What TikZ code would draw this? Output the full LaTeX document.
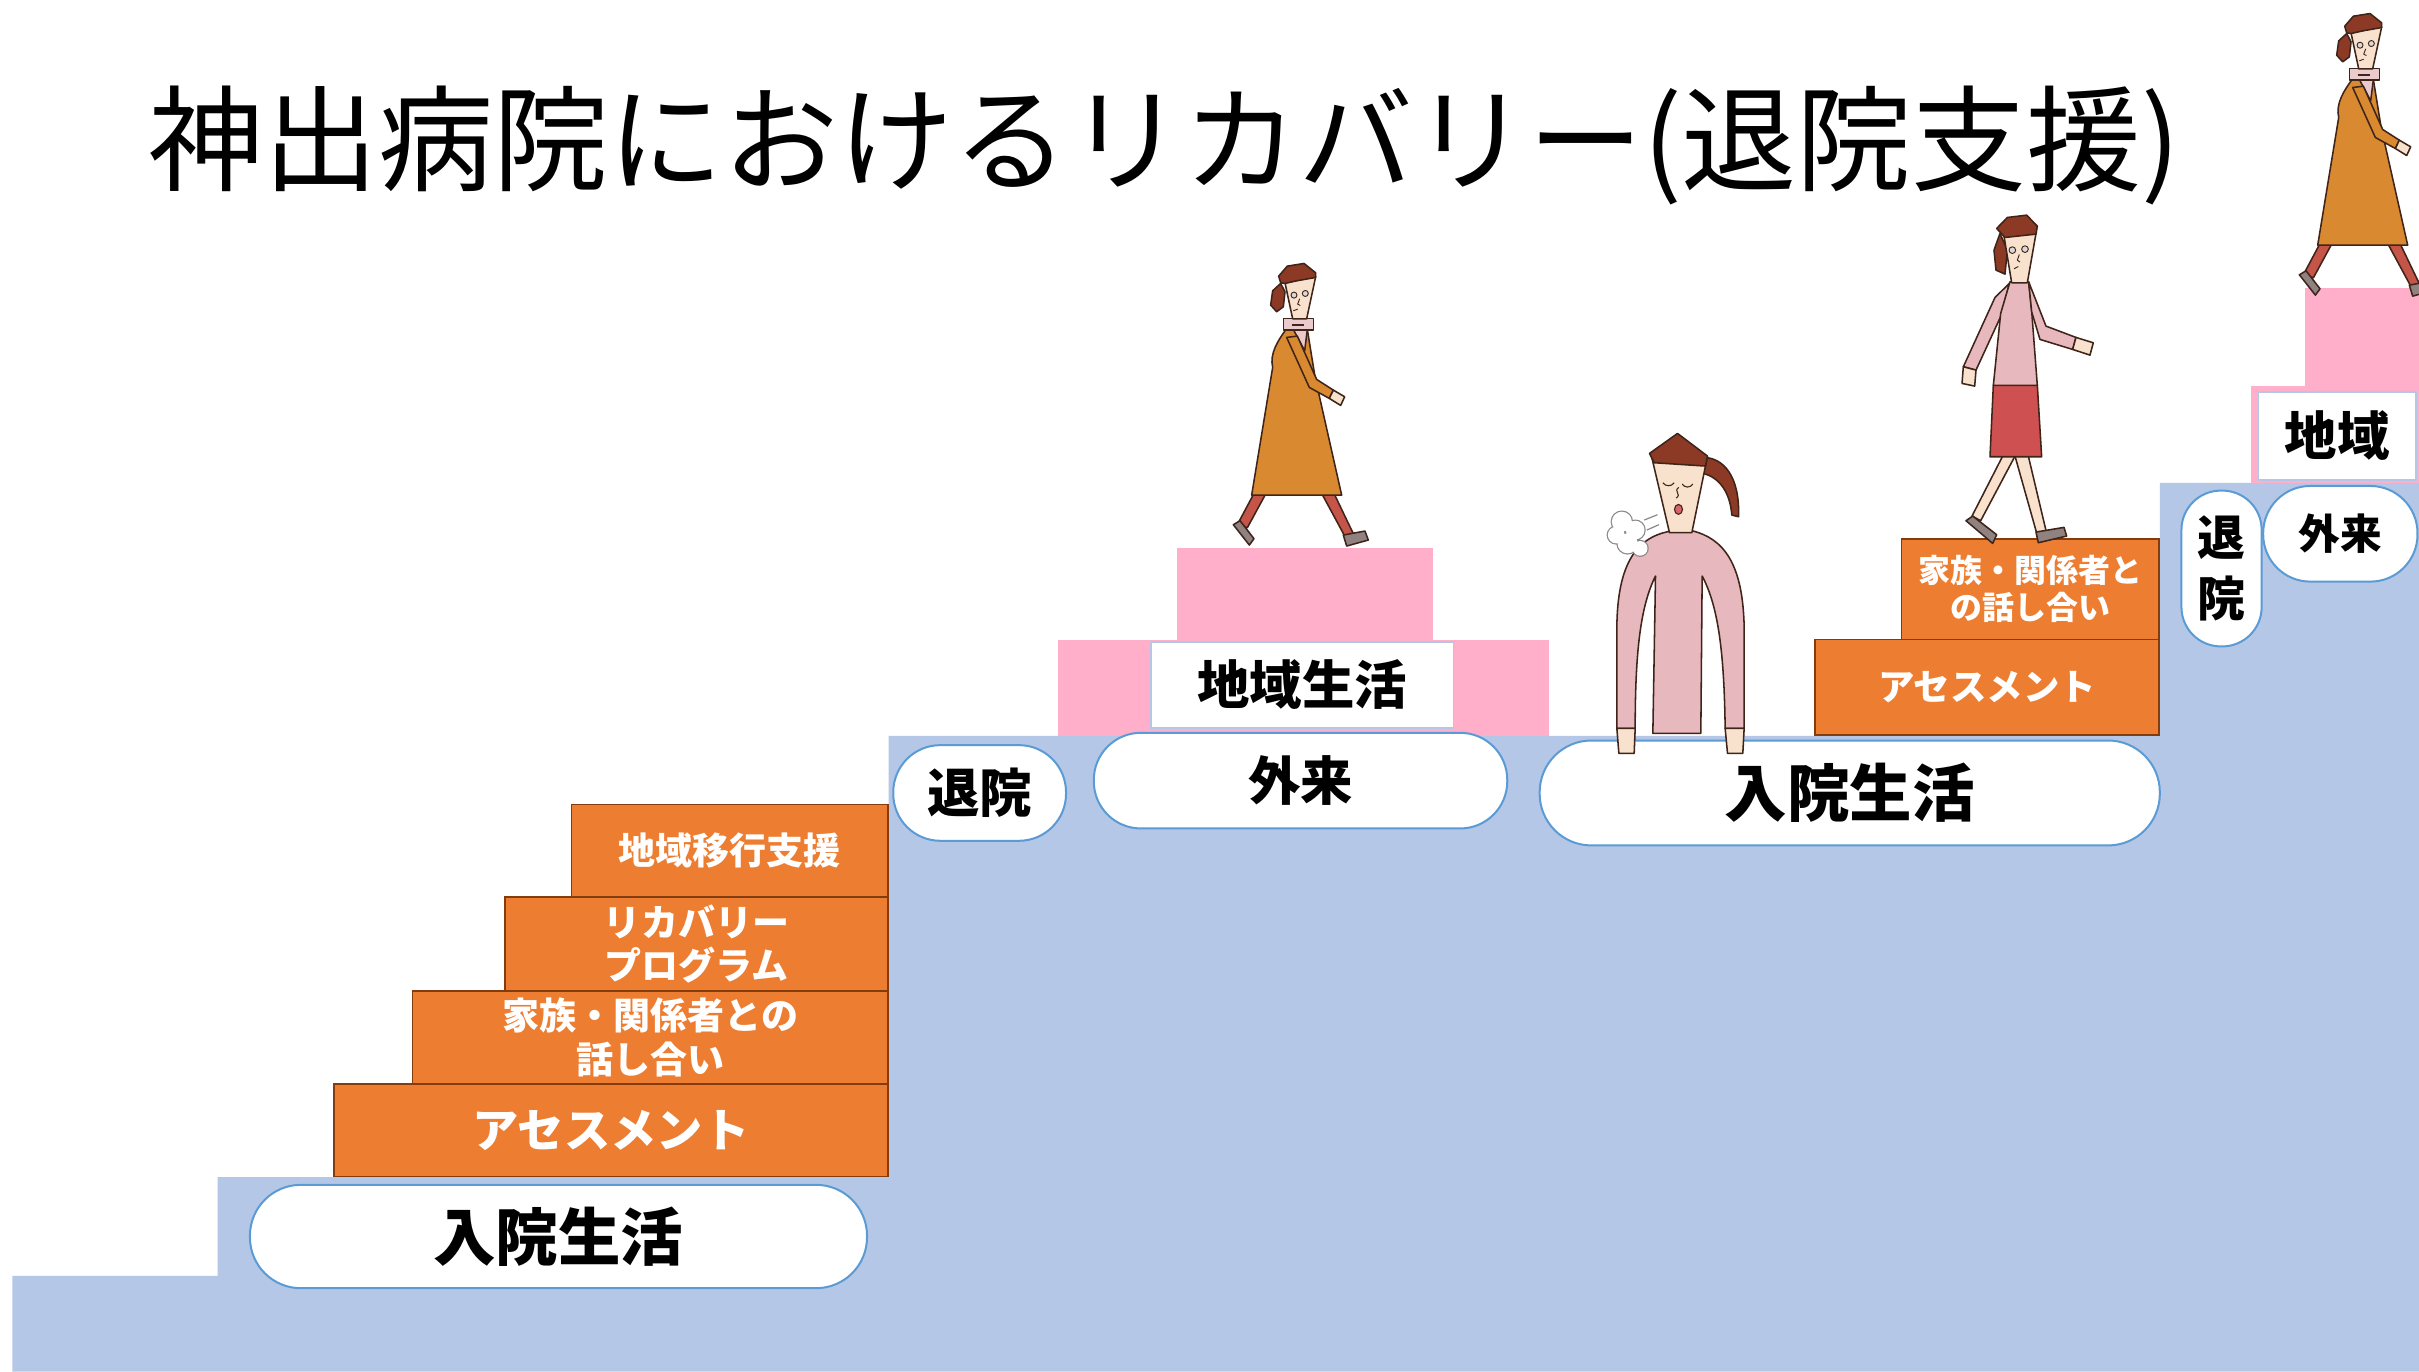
\documentclass[tikz,border=0pt]{standalone}
\usepackage{fontspec}
\setmainfont{Noto Sans CJK JP}
\usepackage{tikz}

\definecolor{stairblue}{HTML}{B4C7E7}
\definecolor{pillblue}{HTML}{5B9BD5}
\definecolor{steporange}{HTML}{ED7D31}
\definecolor{stepedge}{HTML}{843C0C}
\definecolor{stagepink}{HTML}{FFAFC9}
\definecolor{inkbrown}{HTML}{3E2419}
\definecolor{skin}{HTML}{F8E1CD}
\definecolor{hairbrown}{HTML}{8C3A25}
\definecolor{coatorange}{HTML}{D98A30}
\definecolor{collarpink}{HTML}{EBCACE}
\definecolor{trouserred}{HTML}{C55549}
\definecolor{shoegray}{HTML}{918282}
\definecolor{toppink}{HTML}{E7B8BE}
\definecolor{skirtred}{HTML}{CF5050}
\definecolor{mouthred}{HTML}{D8636A}
\definecolor{puffgray}{HTML}{8A8A8A}

\newcommand{\boxfont}[2]{\fontsize{#1}{#2}\selectfont\bfseries}

\tikzset{
  stepbox/.style={draw=stepedge, fill=steporange, line width=1pt, text=white,
    align=center, inner sep=0pt, anchor=south east},
  pill/.style={draw=pillblue, fill=white, line width=1.3pt, inner sep=0pt, align=center},
  placebox/.style={draw=stairblue, fill=white, line width=1pt, inner sep=0pt},
  % woman in a long coat, origin between the feet
  coatwalker/.pic={
    \begin{scope}[scale=0.216, shift={(-447,-939)}, color=inkbrown, line width=1pt, line join=round]
      \filldraw[fill=trouserred] (312,790) -- (348,790) -- (292,893) -- (263,882) -- cycle;
      \filldraw[fill=shoegray] (250,884) -- (270,872) -- (312,926) -- (298,945) -- cycle;
      \filldraw[fill=trouserred] (515,790) -- (552,790) -- (612,915) -- (588,925) -- cycle;
      \filldraw[fill=shoegray] (580,915) -- (645,903) -- (655,930) -- (590,948) -- cycle;
      \filldraw[fill=coatorange] (408,298) .. controls (385,330) and (358,370) .. (368,412)
        -- (305,795) -- (575,795) -- (495,440) -- (472,298) -- cycle;
      \filldraw[fill=collarpink] (430,298) -- (472,298) -- (464,362) -- cycle;
      \filldraw[fill=coatorange] (410,322) -- (442,318) -- (500,448) -- (550,480) -- (538,505) -- (478,472) -- cycle;
      \filldraw[fill=skin] (550,480) -- (584,500) -- (572,526) -- (538,505) -- cycle;
      \filldraw[fill=collarpink] (400,265) rectangle (490,300);
      \draw (425,284) -- (462,284);
      \filldraw[fill=hairbrown] (392,160) -- (368,182) -- (362,225) -- (380,245) -- (400,230) -- (405,185) -- cycle;
      \filldraw[fill=skin] (405,158) -- (497,140) -- (470,266) -- (428,266) -- cycle;
      \filldraw[fill=hairbrown] (386,138) -- (412,108) -- (462,100) -- (497,128) -- (497,142)
        -- (440,152) -- (405,160) -- (392,158) -- cycle;
      \filldraw[fill=gray!30, line width=0.6pt] (432,195) circle (9) (466,190) circle (9);
      \draw[line width=0.6pt] (449,206) -- (443,222) -- (451,226) (430,242) -- (443,237);
    \end{scope}
  },
  % woman in a pink top and red skirt
  skirtwalker/.pic={
    \begin{scope}[scale=0.216, shift={(-273,-1029)}, color=inkbrown, line width=1pt, line join=round]
      \filldraw[fill=skin] (218,768) -- (255,768) -- (152,962) -- (126,948) -- cycle;
      \filldraw[fill=shoegray] (108,962) -- (128,948) -- (200,1004) -- (188,1030) -- cycle;
      \filldraw[fill=skin] (255,768) -- (295,768) -- (350,1000) -- (322,1006) -- cycle;
      \filldraw[fill=shoegray] (318,996) -- (402,982) -- (410,1008) -- (325,1028) -- cycle;
      \filldraw[fill=skirtred] (190,555) -- (322,555) -- (335,770) -- (180,770) -- cycle;
      \filldraw[fill=toppink] (238,250) -- (195,292) -- (100,500) -- (138,510) -- (214,345) -- cycle;
      \filldraw[fill=skin] (100,500) -- (138,510) -- (134,558) -- (96,550) -- cycle;
      \filldraw[fill=toppink] (240,245) -- (296,245) -- (305,332) -- (322,556) -- (190,556) -- (212,340) -- cycle;
      \filldraw[fill=toppink] (296,245) -- (348,378) -- (438,412) -- (428,448) -- (330,418) -- (305,335) -- cycle;
      \filldraw[fill=skin] (438,412) -- (490,428) -- (480,465) -- (428,448) -- cycle;
      \filldraw[fill=hairbrown] (210,100) -- (192,150) -- (198,210) -- (225,222) -- (232,150) -- cycle;
      \filldraw[fill=skin] (222,108) -- (318,100) -- (292,248) -- (245,248) -- cycle;
      \filldraw[fill=hairbrown] (200,85) -- (232,52) -- (290,45) -- (322,78) -- (318,102) -- (225,112) -- cycle;
      \filldraw[fill=gray!30, line width=0.6pt] (247,150) circle (10) (285,147) circle (10);
      \draw[line width=0.6pt] (268,163) -- (262,180) -- (270,186) (252,206) -- (265,199);
    \end{scope}
  },
  % woman letting out a sigh
  sigher/.pic={
    \begin{scope}[scale=0.216, shift={(-265,-994)}, color=inkbrown, line width=1pt, line join=round]
      \filldraw[fill=toppink] (232,335) .. controls (140,355) and (82,430) .. (80,620) -- (80,925)
        -- (135,925) .. controls (135,700) and (150,560) .. (196,468) -- (188,940) -- (332,940)
        -- (336,468) .. controls (385,560) and (402,700) .. (405,925) -- (462,925) -- (462,620)
        .. controls (458,430) and (400,355) .. (305,332) -- cycle;
      \filldraw[fill=skin] (80,925) -- (135,925) -- (132,1000) -- (86,1000) -- cycle;
      \filldraw[fill=skin] (405,925) -- (462,925) -- (458,1000) -- (412,1000) -- cycle;
      \filldraw[fill=hairbrown] (335,112) .. controls (400,110) and (450,170) .. (445,290) -- (425,285)
        .. controls (420,220) and (390,172) .. (338,160) -- cycle;
      \filldraw[fill=skin] (182,100) -- (350,118) -- (305,338) -- (238,338) -- cycle;
      \filldraw[fill=hairbrown] (178,100) -- (262,40) -- (352,108) -- (346,138) -- (192,128) -- cycle;
      \draw[line width=0.7pt] (218,188) .. controls (226,200) and (244,200) .. (252,188)
        (276,192) .. controls (284,204) and (300,204) .. (308,192)
        (266,202) .. controls (248,214) and (276,222) .. (258,234);
      \filldraw[fill=mouthred, line width=0.7pt] (265,268) ellipse (12 and 15);
      \draw[puffgray, line width=1.6pt] (95,305) circle (30) (78,345) circle (25) (112,370) circle (30)
        (150,385) circle (22) (135,330) circle (28);
      \fill[white] (95,305) circle (30) (78,345) circle (25) (112,370) circle (30)
        (150,385) circle (22) (135,330) circle (28);
      \draw[puffgray, line width=0.8pt] (162,300) -- (202,284) (170,330) -- (206,314);
    \end{scope}
  }
}

\begin{document}
\begin{tikzpicture}[x=1pt, y=-1pt]
\useasboundingbox (0,0) rectangle (1568,889);
\fill[white] (0,0) rectangle (1568,889);

% stairs
\fill[stairblue] (8,889) -- (8,827) -- (141,827) -- (141,763) -- (576,763) -- (576,477)
  -- (1400,477) -- (1400,313) -- (1568,313) -- (1568,889) -- cycle;

% pink stages
\fill[stagepink] (686,415) rectangle (1004,477);
\fill[stagepink] (763,355) rectangle (929,415);
\fill[stagepink] (1459,250) rectangle (1568,313);
\fill[stagepink] (1494,187) rectangle (1568,250);

\node[placebox, minimum width=196pt, minimum height=56pt, font=\boxfont{34}{38}] (homeM) at (844,444) {地域生活};
\node[placebox, minimum width=102pt, minimum height=57pt, font=\boxfont{34}{38}] (homeR) at (1515,282.5) {地域};

% orange steps
\node[stepbox, minimum width=359pt, minimum height=60pt, font=\boxfont{30}{36}] (assessL) at (576,763) {アセスメント};
\node[stepbox, minimum width=308pt, minimum height=60pt, font=\boxfont{24}{29}] (familyL) at (576,703) {家族・関係者との\\話し合い};
\node[stepbox, minimum width=248pt, minimum height=61pt, font=\boxfont{24}{28}] (recovL) at (576,643) {リカバリー\\プログラム};
\node[stepbox, minimum width=205pt, minimum height=60pt, font=\boxfont{24}{28}] (transL) at (576,582) {地域移行支援};

\node[stepbox, minimum width=223pt, minimum height=62pt, font=\boxfont{23.6}{28}] (assessR) at (1400,477) {アセスメント};
\node[stepbox, minimum width=167pt, minimum height=65pt, font=\boxfont{20.7}{24}] (familyR) at (1400,415) {家族・関係者と\\の話し合い};

% pills
\node[pill, minimum width=400pt, minimum height=67pt, rounded corners=33pt, font=\boxfont{40.5}{44}] (stayL) at (362,801.5) {入院生活};
\node[pill, minimum width=112pt, minimum height=62pt, rounded corners=30.5pt, font=\boxfont{34}{38}] (leaveM) at (635,514) {退院};
\node[pill, minimum width=268pt, minimum height=62pt, rounded corners=30.5pt, font=\boxfont{34}{38}] (clinicM) at (843,506) {外来};
\node[pill, minimum width=402pt, minimum height=68pt, rounded corners=33.5pt, font=\boxfont{40.5}{44}] (stayR) at (1199,514) {入院生活};
\node[pill, minimum width=52pt, minimum height=101pt, rounded corners=25.5pt, font=\boxfont{31}{40}] (leaveR) at (1440,368.5) {退\\院};
\node[pill, minimum width=100pt, minimum height=62pt, rounded corners=30.5pt, font=\boxfont{27}{30}] (clinicR) at (1517,346) {外来};

% people
\pic at (842,352) {coatwalker};
\pic at (1533,190) {coatwalker};
\pic at (1310,352) {skirtwalker};
\pic at (1088,487) {sigher};

\node[font=\fontsize{74.5}{80}\selectfont, anchor=base, inner sep=0pt] (title) at (755,118) {神出病院におけるリカバリー(退院支援)};
\end{tikzpicture}
\end{document}
